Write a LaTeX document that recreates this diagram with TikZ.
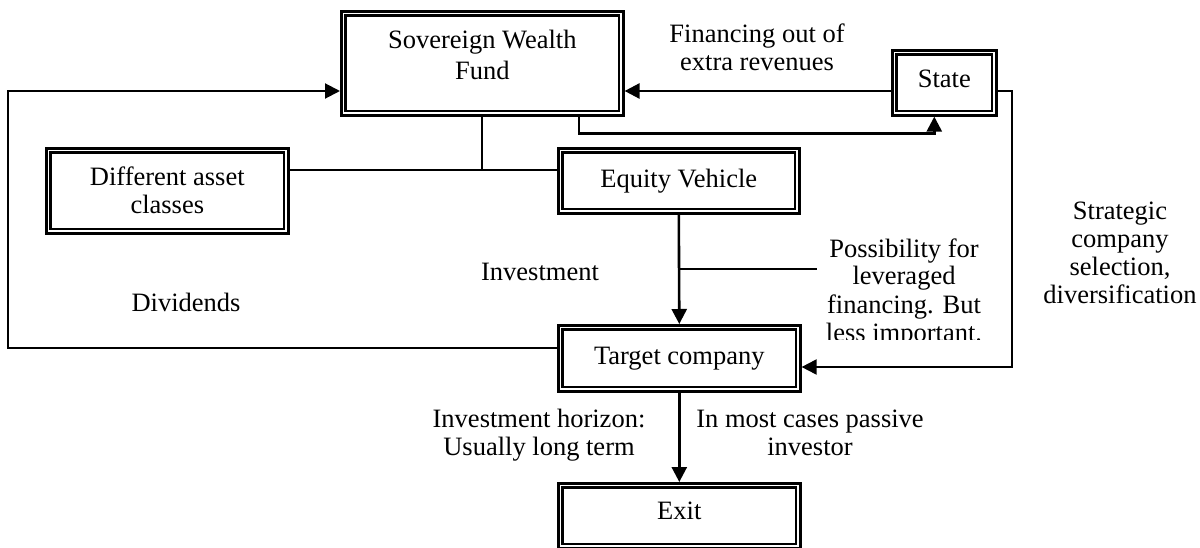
\documentclass[tikz,border=0pt]{standalone}
\usepackage{fontspec}
\setmainfont{Liberation Serif}
\usetikzlibrary{calc,arrows.meta}
\newcommand\fs{\fontsize{26.5}{28}\selectfont}
\newcommand\liftup[2]{\raisebox{#1}[\height][\depth]{\begin{tabular}{@{}c@{}}#2\end{tabular}}}
\begin{document}
\begin{tikzpicture}[x=1pt,y=-1pt,
  box/.style={draw, line width=2.6pt, rectangle, anchor=north west, inner sep=0pt, align=center, font=\fs},
  innerline/.style={line width=2.3pt},
  lbl/.style={anchor=base, align=center, inner sep=0pt, font=\fs},
  arr/.style={line width=2.6pt, -{Triangle[length=15pt,width=15pt]}},
  plain/.style={line width=1.8pt},
  thinarr/.style={line width=2pt, -{Triangle[length=15pt,width=15pt]}}]
\useasboundingbox[fill=white] (0,0) rectangle (1200,548);
% boxes
\node[box, minimum width=282pt, minimum height=104pt] (swf) at (340,10) {\liftup{5pt}{Sovereign Wealth\\[3pt]Fund}};
\node[box, minimum width=104pt, minimum height=65pt] (state) at (891,49) {\liftup{1pt}{State}};
\node[box, minimum width=242pt, minimum height=85pt] (dac) at (45,147) {Different asset\\classes};
\node[box, minimum width=241pt, minimum height=65pt] (ev) at (557,147) {Equity Vehicle};
\node[box, minimum width=242pt, minimum height=66pt] (tc) at (557,324) {Target company};
\node[box, minimum width=242pt, minimum height=65pt] (ex) at (557,482) {\liftup{2pt}{Exit}};
\foreach \n in {swf,state,dac,ev,tc,ex}
  \draw[innerline] ($(\n.north west)+(5.5,5.5)$) rectangle ($(\n.south east)+(-5.5,-5.5)$);
% labels (anchor base = last line's baseline)
\node[lbl] (fin) at (757,71) {Financing out of\\extra revenues};
\node[lbl] (strat) at (1120,303) {Strategic\\company\\selection,\\diversification};
\node[lbl] (inv) at (540,280) {Investment};
\node[lbl] (div) at (186,311) {Dividends};
\node[lbl] (hor) at (539,455) {Investment horizon:\\Usually long term};
\node[lbl] (pas) at (810,455) {In most cases passive\\investor};
\begin{scope}
\clip (770,230) rectangle (1005,339);
\node[lbl] (lev) at (904,341) {Possibility for\\leveraged\\financing. But\\less important.};
\end{scope}
% coordinates
\coordinate (divstart) at ($(tc.north west)+(0,23.5)$);
\coordinate (cornerTL) at (8,91);
\coordinate (stL) at ($(state.north west)+(0,42)$);
\coordinate (dacline) at ($(dac.north east)+(0,23)$);
\coordinate (br) at ($(ev.south)!0.5!(tc.north)$);
\coordinate (brend) at (817,268);
\coordinate (strR) at (1012,367);
% connectors
\draw[thinarr] (divstart) -| (cornerTL) -- (swf.west |- cornerTL);
\draw[arr] (stL) -- (swf.east |- stL);
\draw[arr] ($(swf.south west)+(239,0)$) -- ++(0,17) -| ($(state.south)+(-10,0)$);
\draw[plain] (swf.south) -- (swf.south |- dacline);
\draw[plain] (dacline) -- (ev.west |- dacline);
\draw[arr] (ev.south) -- (tc.north);
\draw[plain] (br) -- (brend |- br);
\draw[thinarr] (state.east |- stL) -| (strR) -- (tc.east |- strR);
\draw[arr] (tc.south) -- (ex.north);
\end{tikzpicture}
\end{document}
